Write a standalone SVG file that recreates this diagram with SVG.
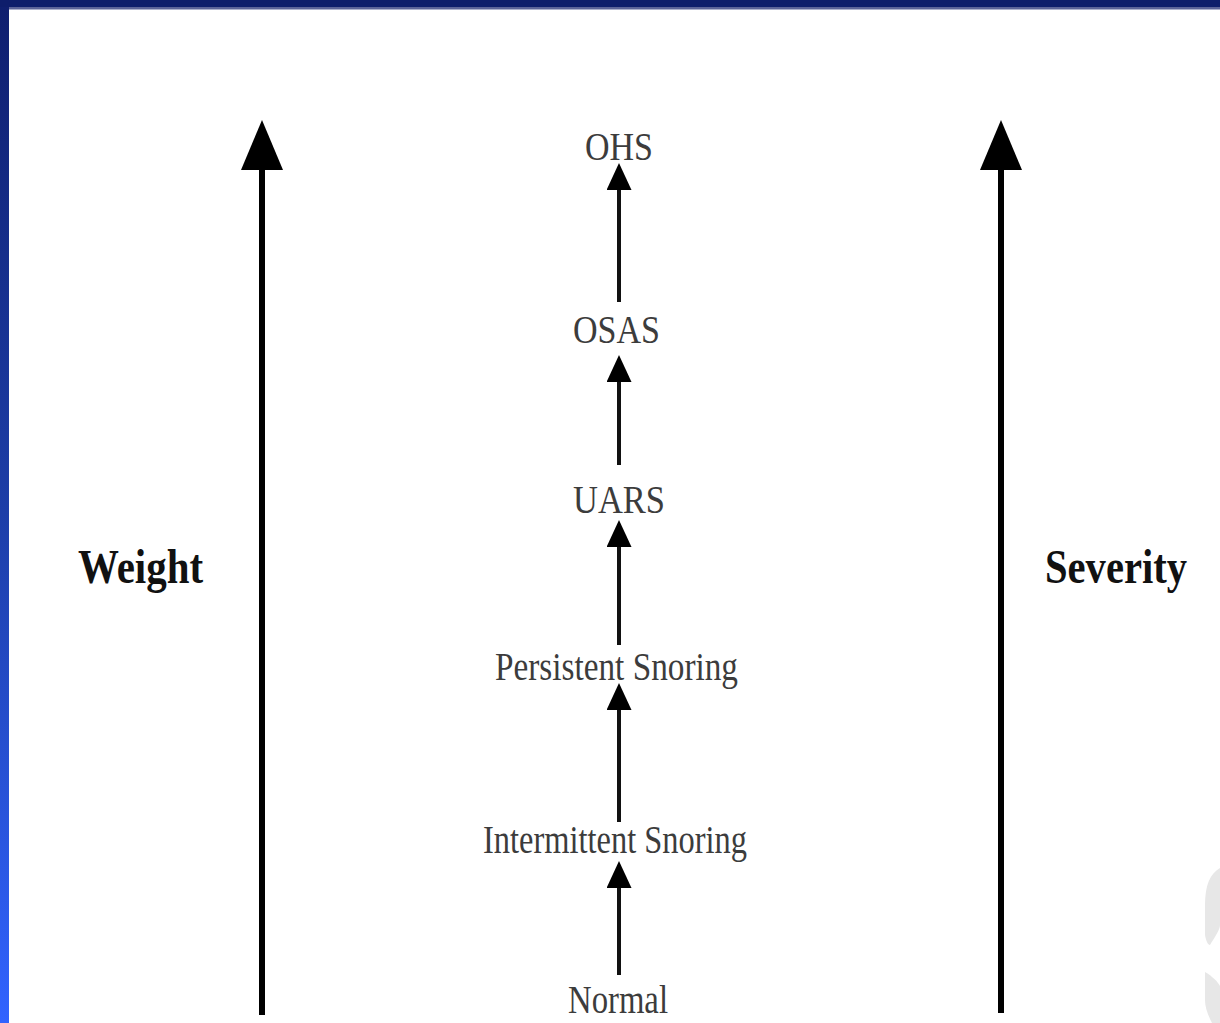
<svg xmlns="http://www.w3.org/2000/svg" width="1220" height="1023" viewBox="0 0 1220 1023">
  <defs>
    <linearGradient id="leftBar" x1="0" y1="0" x2="0" y2="1">
      <stop offset="0" stop-color="#0f1e6e"/>
      <stop offset="0.5" stop-color="#1d3ea8"/>
      <stop offset="1" stop-color="#3163ff"/>
    </linearGradient>
    <marker id="bigHead" markerUnits="userSpaceOnUse" viewBox="0 0 50 42" refX="0" refY="21" markerWidth="50" markerHeight="42" orient="auto">
      <path d="M0,0 L50,21 L0,42 z" fill="#000"/>
    </marker>
    <marker id="smallHead" markerUnits="userSpaceOnUse" viewBox="0 0 27 25" refX="0" refY="12.5" markerWidth="27" markerHeight="25" orient="auto">
      <path d="M0,0 L27,12.5 L0,25 z" fill="#000"/>
    </marker>
    <style>
      .lbl { font-family: "Liberation Serif", "Times New Roman", serif; font-size: 40px; fill: #3c3c3c; text-anchor: middle; }
      .axis { font-family: "Liberation Serif", "Times New Roman", serif; font-size: 48px; font-weight: bold; fill: #111; text-anchor: middle; }
      .big { stroke: #000; stroke-width: 6; fill: none; marker-end: url(#bigHead); }
      .small { stroke: #111; stroke-width: 4; fill: none; marker-end: url(#smallHead); }
    </style>
  </defs>

  <rect x="0" y="0" width="1220" height="1023" fill="#fff"/>
  <rect x="0" y="0" width="9" height="1023" fill="url(#leftBar)"/>
  <rect x="0" y="0" width="1220" height="7" fill="#0e1d6b"/>
  <rect x="9" y="7" width="1211" height="2.5" fill="#5c6399"/>
  <path d="M1220,868 C1210,874 1205,885 1205,905 L1205,935 C1206,941 1208,945 1210,945 C1214,938 1220,930 1220,925 Z" fill="#e7e7e7"/>
  <path d="M1205,972 C1212,976 1218,982 1220,986 L1220,1023 L1212,1023 C1208,1015 1205,1008 1205,1000 Z" fill="#e7e7e7"/>

  <g id="connectors">
    <line class="big" x1="262" y1="1015" x2="262" y2="170"/>
    <line class="big" x1="1001" y1="1013" x2="1001" y2="170"/>
    <line class="small" x1="619" y1="302" x2="619" y2="190"/>
    <line class="small" x1="619" y1="465" x2="619" y2="382"/>
    <line class="small" x1="619" y1="645" x2="619" y2="547"/>
    <line class="small" x1="619" y1="822" x2="619" y2="710"/>
    <line class="small" x1="619" y1="975" x2="619" y2="888"/>
  </g>

  <g id="node-weight"><text class="axis" x="140.5" y="583" textLength="125" lengthAdjust="spacingAndGlyphs">Weight</text></g>
  <g id="node-severity"><text class="axis" x="1116" y="583" textLength="142" lengthAdjust="spacingAndGlyphs">Severity</text></g>
  <g id="node-ohs"><text class="lbl" x="619" y="160" textLength="68" lengthAdjust="spacingAndGlyphs">OHS</text></g>
  <g id="node-osas"><text class="lbl" x="616.5" y="343" textLength="87" lengthAdjust="spacingAndGlyphs">OSAS</text></g>
  <g id="node-uars"><text class="lbl" x="619" y="513" textLength="92" lengthAdjust="spacingAndGlyphs">UARS</text></g>
  <g id="node-persistent"><text class="lbl" x="616.5" y="680" textLength="243" lengthAdjust="spacingAndGlyphs">Persistent Snoring</text></g>
  <g id="node-intermittent"><text class="lbl" x="615" y="853" textLength="264" lengthAdjust="spacingAndGlyphs">Intermittent Snoring</text></g>
  <g id="node-normal"><text class="lbl" x="618" y="1013" textLength="100" lengthAdjust="spacingAndGlyphs">Normal</text></g>
</svg>
